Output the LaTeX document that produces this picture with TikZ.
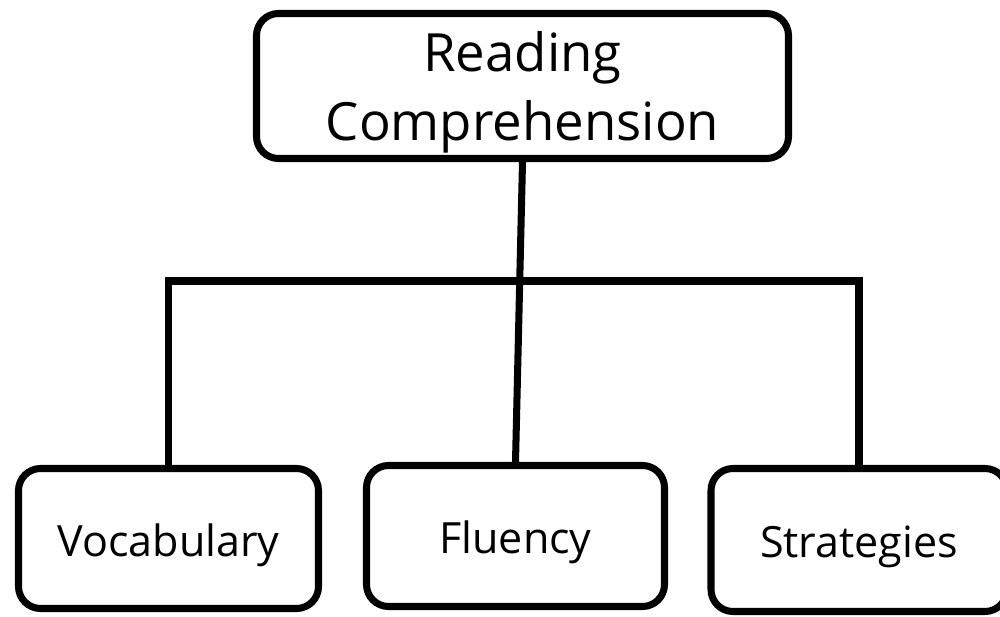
\documentclass[tikz,border=0pt]{standalone}
\usepackage{fontspec}
\setmainfont{Open Sans}
\usepackage{tikz}

\tikzset{
    box/.style={shape=rectangle, draw=black, line width=4pt, rounded corners=0.44cm, align=center, inner sep=0pt},
    leaf/.style={box, font=\fontsize{24.5}{30}\selectfont, text height=26pt, text depth=6pt},
    link/.style={-, line width=4pt}
}

\begin{document}
\begin{tikzpicture}
        \useasboundingbox (0,0) rectangle (20,12.32);

        \node[box, minimum width=10.64cm, minimum height=2.9cm, font=\fontsize{30}{39.5}\selectfont, text depth=0pt] (rc) at (10.45, 10.6)  {Reading\\Comprehension};
        \node[leaf, minimum width=6.0cm, minimum height=2.8cm] (voc) at (3.37, 1.55)  {Vocabulary};
        \node[leaf, minimum width=5.96cm, minimum height=2.82cm] (flu) at (10.31, 1.6)  {Fluency};
        \node[leaf, minimum width=5.92cm, minimum height=2.86cm] (str) at (17.18, 1.52)  {Strategies};
        \coordinate (bar) at (10, 6.7);

        %top to middle
        \path[link] (rc.south) edge (flu.north);

        %bar to the sides
        \draw[link] (voc.north) -- (voc.north |- bar) -- (str.north |- bar) -- (str.north);
\end{tikzpicture}
\end{document}
